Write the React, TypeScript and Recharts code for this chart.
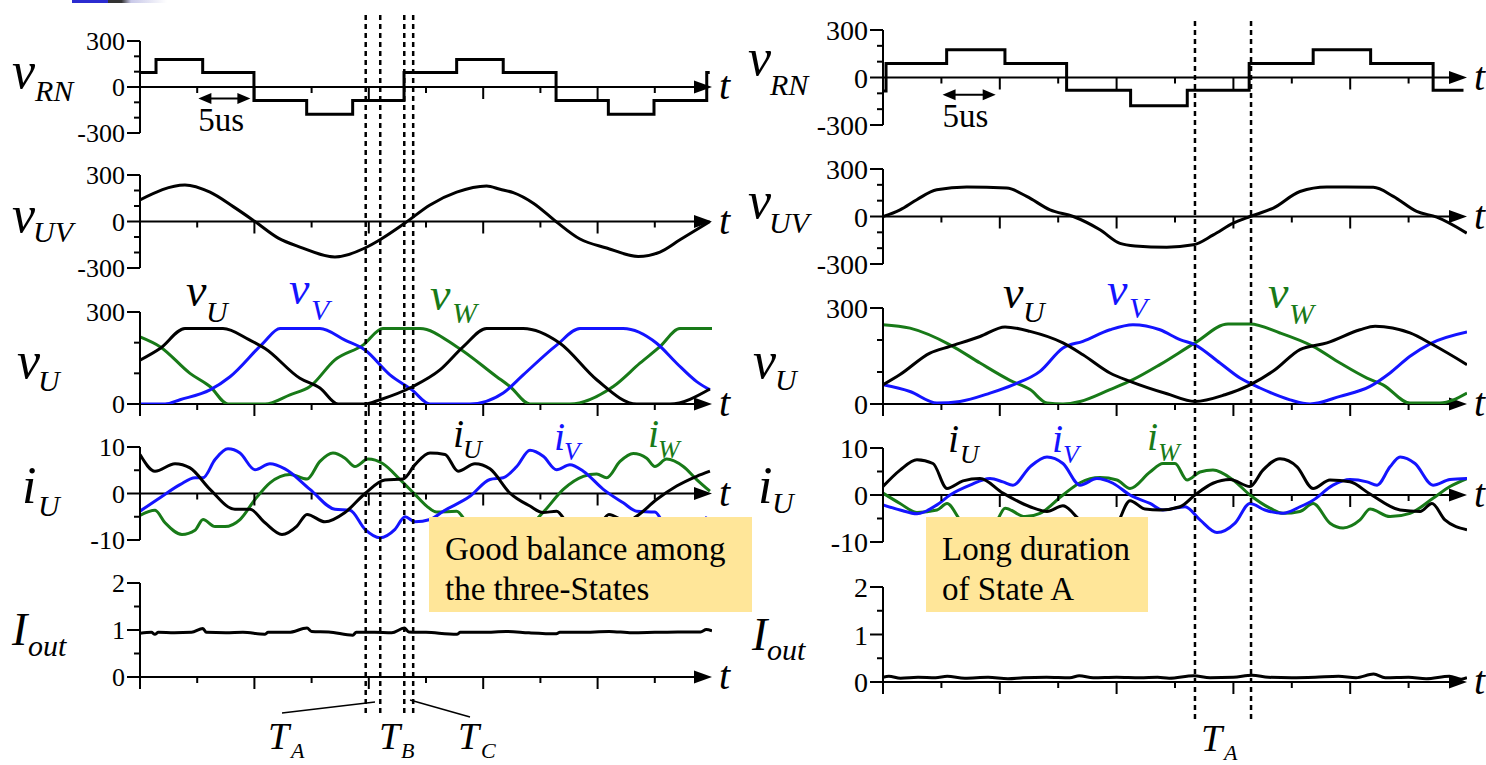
import React from 'react';
import { LineChart, Line, XAxis, YAxis, ReferenceLine, ReferenceDot } from 'recharts';

const W = 1486;
const H = 765;
const FONT = '"Liberation Serif", "Times New Roman", serif';
const BLACK = '#000000';
const BLUE = '#1414ff';
const GREEN = '#187a18';

// time axis, us
const X_TICKS = [0, 5, 10, 15, 20, 25, 30, 35, 40, 45];
const X_MAJOR = [0, 10, 20, 30, 40];
const SCALE_ARROW = [5.1, 9.65];

// ---- left case: good balance ----
const L_VRN: [number, number][] = [
  [0, 95], [1.4, 180], [5.48, 95], [9.96, -88], [14.57, -178], [18.59, -88], [23.08, 95],
  [27.68, 180], [31.75, 95], [36.37, -88], [40.94, -178], [44.93, -88], [49.54, 95], [49.8, 95],
];
const L_VUV: [number, number][] = [
  [0, 140], [3.93, 236], [6.12, 189], [8.15, 96], [10.05, 0], [12.09, -107], [13.98, -165],
  [17.04, -229], [19.67, -171], [20.98, -118], [23.17, -10], [25.35, 107], [27.68, 189],
  [30.3, 229], [31.47, 208], [32.63, 186], [34.38, 118], [36.36, 0], [38.46, -113],
  [40.79, -171], [43.55, -225], [45.45, -197], [47.2, -118], [49.82, 0],
];
const L_VU: [number, number][] = [
  [0, 143], [1.75, 181], [3.93, 246], [7.25, 246], [9.61, 208], [10.93, 181], [13.98, 84],
  [15.73, 52], [17.31, 0], [19.67, 0], [20.98, 14], [23.86, 57], [26.22, 111], [28.26, 187],
  [30.3, 246], [33.5, 246], [36.71, 198], [39.92, 79], [43.41, 0], [46.32, 0], [49.82, 49],
];
const L_VV: [number, number][] = [
  [0, 0], [2.19, 0], [3.5, 14], [6.12, 46], [7.87, 89], [10.75, 198], [12.24, 246],
  [15.73, 246], [17.92, 208], [19.67, 176], [21.85, 95], [23.77, 46], [25.35, 0], [28.84, 0],
  [31.75, 36], [33.5, 95], [36.42, 192], [38.46, 246], [42.24, 246], [45.16, 198],
  [46.91, 133], [48.66, 73], [49.82, 46],
];
const L_VW: [number, number][] = [
  [0, 219], [1.75, 187], [4.37, 100], [6.12, 57], [7.69, 0], [10.93, 0], [13.11, 30],
  [14.86, 57], [17.04, 144], [19.49, 192], [21.24, 246], [24.47, 246], [27.68, 187],
  [31.18, 89], [32.34, 57], [34.09, 0], [37.58, 0], [41.37, 57], [43.7, 133], [45.45, 187],
  [47.2, 246], [50, 246],
];
const L_IU: [number, number][] = [
  [0, 8.4], [1.31, 4.8], [3.06, 6.4], [4.37, 5.5], [6.12, 0.9], [8.3, -3.4], [9.61, -3.4],
  [10.93, -6.3], [12.41, -8.8], [13.72, -7.0], [14.6, -4.5], [16.17, -6.1], [17.92, -4.1],
  [19.67, 0], [21.41, 2.9], [23.0, 3.1], [24.04, 6.2], [25.35, 8.7], [26.66, 8.4],
  [27.8, 4.8], [29.28, 6.4], [30.59, 5.3], [32.34, 0.1], [34.09, -2.7], [35.22, -4.1],
  [36.42, -3.8], [37.32, -6.3], [38.81, -8.8], [40.12, -7.0], [40.99, -4.5], [42.57, -6.1],
  [43.41, -4.9], [45.16, -1.3], [46.91, 1.6], [48.66, 3.7], [49.82, 4.8],
];
const L_IV: [number, number][] = [
  [0, -3.8], [1.75, -0.9], [3.5, 1.9], [4.81, 3.4], [5.51, 3.4], [6.56, 7.3], [7.69, 9.6],
  [8.74, 8.7], [10.05, 5.1], [11.36, 6.4], [12.67, 5.3], [14.86, 0.9], [17.04, -3.4],
  [18.35, -3.6], [19.67, -7.7], [20.98, -9.5], [22.29, -7.7], [23.17, -5.0], [24.04, -6.1],
  [25.35, -5.6], [26.51, -3.8], [28.84, -0.6], [30.59, 3.0], [31.75, 3.4], [32.93, 5.8],
  [34.09, 9.3], [35.25, 8.0], [36.42, 5.1], [37.58, 6.2], [38.75, 4.8], [40.5, 0.9],
  [42.24, -2.0], [43.41, -3.8], [45.01, -4.0], [46.06, -7.7], [47.37, -9.5], [48.69, -7.7],
  [49.56, -5.0],
];
const L_IW: [number, number][] = [
  [0, -4.7], [1.31, -3.6], [2.19, -6.3], [3.67, -8.8], [4.81, -7.9], [5.51, -5.6],
  [6.56, -7.1], [7.43, -7.1], [8.74, -5.6], [10.05, -1.3], [11.36, 2.3], [13.11, 4.1],
  [14.6, 3.1], [15.73, 6.9], [16.87, 8.7], [17.92, 7.6], [18.79, 5.8], [19.93, 7.4],
  [21.24, 6.4], [22.73, 3.0], [24.04, -0.2], [25.06, -2.7], [25.93, -4.0], [27.68, -3.8],
  [28.58, -6.3], [30.07, -8.8], [31.2, -7.9], [31.9, -5.6], [32.95, -7.1], [33.83, -7.1],
  [35.25, -4.0], [37.0, 0.9], [38.75, 3.7], [39.92, 4.2], [40.79, 3.4], [41.96, 6.9],
  [43.12, 8.6], [44.29, 7.6], [45.01, 5.8], [46.04, 7.4], [47.49, 5.8], [48.66, 3.0],
  [49.82, 0.5],
];
const L_IOUT: [number, number][] = [
  [0, 0.93], [1, 0.95], [1.3, 0.91], [1.6, 0.95], [3, 0.94], [4.5, 0.95], [5.5, 1.03],
  [5.8, 0.95], [7.5, 0.94], [9, 0.95], [10.9, 0.91], [11.2, 0.95], [13, 0.95], [14.6, 1.04],
  [15, 0.97], [16.5, 0.96], [18.6, 0.89], [18.9, 0.95], [20.5, 0.95], [22, 0.94], [23.1, 1.04],
  [23.5, 0.96], [25, 0.95], [27.7, 0.91], [28, 0.95], [30, 0.95], [32, 0.97], [34, 0.94],
  [36.4, 0.92], [36.7, 0.95], [38.5, 0.95], [41, 0.97], [43, 0.94], [45, 0.95], [47, 0.96],
  [49, 0.96], [49.5, 1.01], [50, 0.98],
];
const L_DASH = [19.73, 21.0, 23.1, 23.88];

// ---- right case: long duration of State A ----
const R_VRN: [number, number][] = [
  [0, -85], [0.26, 88], [5.45, 175], [10.44, 88], [15.72, -80], [21.2, -178], [26.05, -80],
  [31.35, 88], [36.83, 175], [41.75, 88], [47.1, -80], [49.7, -80],
];
const R_VUV: [number, number][] = [
  [0, 0], [1.46, 42], [2.89, 106], [4.6, 169], [7.17, 186], [10.59, 180], [12.3, 127],
  [14.3, 42], [16.29, 0], [18.58, -84], [20.29, -170], [21.58, -186], [24.29, -194],
  [26.57, -179], [28.28, -116], [29.99, -42], [31.42, 0], [33.42, 53], [35.7, 158],
  [37.99, 186], [41.98, 184], [43.69, 127], [45.69, 32], [47.41, -4], [49.98, -105],
];
const R_VU: [number, number][] = [
  [0, 60], [1.46, 92], [4.02, 159], [5.74, 180], [8.31, 211], [10.45, 241], [12.59, 227],
  [15.41, 191], [17.12, 154], [19.43, 97], [21.15, 71], [24.32, 32], [26.71, 8], [29.28, 29],
  [31.42, 60], [33.56, 107], [35.7, 170], [38.01, 191], [40.84, 232], [42.13, 243],
  [45.12, 222], [47.09, 185], [50, 123],
];
const R_VV: [number, number][] = [
  [0, 60], [2.31, 39], [4.62, 3], [6.59, 8], [9.16, 34], [11.13, 60], [13.44, 102],
  [15.41, 175], [17.12, 196], [19.43, 232], [21.4, 248], [23.71, 232], [25.43, 201],
  [26.71, 185], [28.85, 128], [30.57, 81], [32.28, 50], [34.85, 13], [36.56, 0], [39.13, 24],
  [41.7, 55], [43.41, 97], [45.12, 149], [46.83, 188], [50, 225],
];
const R_VW: [number, number][] = [
  [0, 248], [2.31, 237], [5.74, 185], [8.31, 128], [10.87, 74], [12.59, 45], [14.04, 3],
  [15.41, 0], [16.87, 8], [19.43, 45], [21.4, 76], [23.71, 123], [26.71, 191], [29.54, 250],
  [31.42, 250], [33.99, 222], [36.82, 180], [39.13, 128], [41.44, 81], [42.81, 60],
  [45.12, 3], [47.68, 3], [50, 34],
];
const R_IU: [number, number][] = [
  [0, 1.8], [1.46, 5.3], [2.91, 7.5], [4.28, 6.7], [5.48, 1.4], [6.85, 3.0], [8.31, 3.5],
  [10.27, 0.4], [12.59, -2.5], [14.04, -3.5], [15.41, -2.3], [16.87, -5.3], [18.58, -7.6],
  [19.86, -6.7], [21.15, -1.2], [22.43, -3.0], [23.71, -3.2], [25.43, -2.5], [26.71, 0],
  [28.25, 2.5], [29.71, 3.3], [31.42, 1.8], [32.53, 5.3], [33.99, 7.7], [35.45, 6.0],
  [36.82, 1.4], [38.27, 3.2], [39.98, 2.8], [41.7, 0.2], [44.27, -3.2], [45.98, -3.5],
  [47.0, -1.8], [48.11, -5.3], [50, -7.4],
];
const R_IV: [number, number][] = [
  [0, -2.1], [1.46, -3.2], [2.91, -4.0], [4.62, -2.1], [5.74, 0], [7.45, 2.1], [9.16, 3.5],
  [10.27, 2.8], [11.13, 2.1], [12.59, 6.0], [14.04, 8.1], [15.41, 6.7], [16.87, 2.1],
  [18.32, 3.5], [19.69, 2.5], [21.15, 0], [22.86, -1.8], [23.97, -3.2], [25.86, -2.5],
  [27.14, -5.3], [28.59, -8.0], [30.14, -6.0], [31.42, -1.8], [32.7, -3.2], [34.25, -3.9],
  [35.7, -2.5], [36.82, -1.1], [38.53, 2.1], [39.98, 3.3], [41.44, 2.8], [42.3, 2.1],
  [43.41, 6.0], [44.27, 8.1], [45.55, 6.7], [47.09, 2.1], [48.54, 3.3], [50, 3.5],
];
const R_IW: [number, number][] = [
  [0, 0.4], [1.46, -1.8], [2.91, -3.7], [4.62, -3.2], [5.48, -1.8], [6.85, -6.0], [8.31, -7.0],
  [9.76, -5.3], [10.45, -2.8], [12.16, -4.6], [13.44, -3.9], [15.41, 0], [16.87, 2.6],
  [18.58, 3.7], [20.03, 3.2], [21.15, 1.4], [22.86, 4.9], [23.97, 6.7], [25.0, 6.7],
  [26.03, 3.2], [27.14, 4.9], [28.25, 5.3], [29.97, 3.2], [31.42, 0], [33.13, -2.8],
  [34.25, -3.9], [35.7, -3.5], [36.82, -1.8], [38.27, -6.0], [39.39, -7.0], [40.84, -5.3],
  [41.7, -3.0], [43.41, -4.6], [45.12, -3.9], [47.09, -0.7], [48.54, 1.8], [50, 3.5],
];
const R_IOUT: [number, number][] = [
  [0, 0.1], [0.5, 0.12], [1.5, 0.08], [3, 0.1], [4.5, 0.09], [5.5, 0.12], [7, 0.08], [9, 0.1],
  [10.7, 0.07], [12, 0.09], [14, 0.1], [16, 0.09], [16.8, 0.13], [18, 0.09], [20, 0.1],
  [22, 0.09], [23.5, 0.1], [24.5, 0.08], [26.6, 0.13], [28, 0.09], [30, 0.1], [31.6, 0.14],
  [33, 0.1], [35, 0.09], [37, 0.1], [39, 0.12], [40.5, 0.09], [42, 0.17], [43, 0.09],
  [45, 0.1], [46.5, 0.07], [48.5, 0.12], [49.5, 0.06], [50, 0.09],
];
const R_DASH = [26.71, 31.51];

const V_TICKS = [-300, -200, -100, 0, 100, 200, 300];
const V_LABELS = [-300, 0, 300];
const VP_TICKS = [0, 100, 200, 300];
const VP_LABELS = [0, 300];
const I_TICKS = [-10, -5, 0, 5, 10];
const I_LABELS = [-10, 0, 10];
const IO_TICKS = [0, 0.5, 1, 1.5, 2];
const IO_LABELS = [0, 1, 2];

type Col = { x0: number; x1: number; fs: number };
const LEFT: Col = { x0: 140, x1: 712, fs: 26 };
const RIGHT: Col = { x0: 883, x1: 1467, fs: 28 };

const toRows = (d: [number, number][]) => d.map(([t, v]) => ({ t, v }));

const yTick = (labels: number[], fs: number) => (p: any) => {
  const v = p.payload.value;
  const major = labels.includes(v);
  const len = major ? 13 : 6;
  return (
    <g>
      <line x1={p.x - len} x2={p.x} y1={p.y} y2={p.y} stroke="#000" strokeWidth={2} />
      {major && (
        <text x={p.x - 15} y={p.y} dy="0.36em" textAnchor="end" fontSize={fs} fontFamily={FONT} fill="#000">
          {v}
        </text>
      )}
    </g>
  );
};

// zero line with arrow head and "t"
const zeroAxis = (p: any) => {
  const xl = Math.min(p.x1, p.x2);
  const xr = Math.max(p.x1, p.x2);
  const y = p.y1;
  return (
    <g>
      <line x1={xl} y1={y} x2={xr - 10} y2={y} stroke="#000" strokeWidth={2} />
      <polygon points={`${xr},${y} ${xr - 18},${y - 6.5} ${xr - 18},${y + 6.5}`} fill="#000" />
      <text x={xr + 7} y={y + 12} fontSize={40} fontStyle="italic" fontFamily={FONT} fill="#000">t</text>
    </g>
  );
};

const scaleArrow = (p: any) => {
  const xl = Math.min(p.x1, p.x2);
  const xr = Math.max(p.x1, p.x2);
  const y = p.y1;
  return (
    <g>
      <line x1={xl + 6} y1={y} x2={xr - 6} y2={y} stroke="#000" strokeWidth={2} />
      <polygon points={`${xl},${y} ${xl + 13},${y - 5.5} ${xl + 13},${y + 5.5}`} fill="#000" />
      <polygon points={`${xr},${y} ${xr - 13},${y - 5.5} ${xr - 13},${y + 5.5}`} fill="#000" />
      <text x={xl} y={y + 32} fontSize={33} fontFamily={FONT} fill="#000">5us</text>
    </g>
  );
};

type Series = { data: [number, number][]; color: string; step?: boolean };

function Panel({ col, top, bottom, domain, ticks, labels, series, arrowY }: {
  col: Col; top: number; bottom: number; domain: [number, number]; ticks: number[];
  labels: number[]; series: Series[]; arrowY?: number;
}) {
  return (
    <div style={{ position: 'absolute', left: 0, top: 0 }}>
      <LineChart width={W} height={H} margin={{ top, bottom: H - bottom, left: 0, right: W - col.x1 }}>
        <XAxis type="number" dataKey="t" domain={[0, 50]} hide allowDataOverflow />
        <YAxis
          type="number"
          domain={domain}
          ticks={ticks}
          interval={0}
          width={col.x0}
          tickSize={0}
          tickMargin={0}
          tickLine={false}
          tick={yTick(labels, col.fs)}
          axisLine={{ stroke: '#000', strokeWidth: 2 }}
          allowDataOverflow
        />
        <ReferenceLine y={0} shape={zeroAxis} />
        {X_TICKS.map((t) => (
          <ReferenceDot
            key={t}
            x={t}
            y={0}
            shape={(d: any) => (
              <line x1={d.cx} x2={d.cx} y1={d.cy} y2={d.cy + (X_MAJOR.includes(t) ? 12 : 6)} stroke="#000" strokeWidth={2} />
            )}
          />
        ))}
        {arrowY !== undefined && (
          <ReferenceLine
            segment={[{ x: SCALE_ARROW[0], y: arrowY }, { x: SCALE_ARROW[1], y: arrowY }]}
            shape={scaleArrow}
          />
        )}
        {series.map((s, i) => (
          <Line
            key={i}
            data={toRows(s.data)}
            dataKey="v"
            type={s.step ? 'stepAfter' : 'monotone'}
            stroke={s.color}
            strokeWidth={3}
            dot={false}
            isAnimationActive={false}
          />
        ))}
      </LineChart>
    </div>
  );
}

// full-height dashed markers for the switching instants
function Dashes({ col, times, top, bottom }: { col: Col; times: number[]; top: number; bottom: number }) {
  const rows = times.map((t) => ({ t, y: 0 }));
  return (
    <div style={{ position: 'absolute', left: 0, top: 0 }}>
      <LineChart width={W} height={H} data={rows} margin={{ top, bottom: H - bottom, left: col.x0, right: W - col.x1 }}>
        <XAxis type="number" dataKey="t" domain={[0, 50]} hide allowDataOverflow />
        <YAxis type="number" hide domain={[0, 1]} allowDataOverflow />
        <Line dataKey="y" stroke="none" dot={false} isAnimationActive={false} />
        {times.map((t) => (
          <ReferenceLine key={t} x={t} stroke="#000" strokeWidth={2.5} strokeDasharray="5 4" ifOverflow="visible" />
        ))}
      </LineChart>
    </div>
  );
}

function Sym({ x, y, main, sub, sx, sy, color = '#000', size = 52, subSize = 30 }: {
  x: number; y: number; main: string; sub: string; sx: number; sy: number; color?: string; size?: number; subSize?: number;
}) {
  return (
    <text fontFamily={FONT} fontStyle="italic" fill={color}>
      <tspan x={x} y={y} fontSize={size}>{main}</tspan>
      <tspan x={sx} y={sy} fontSize={subSize}>{sub}</tspan>
    </text>
  );
}

const boxStyle: React.CSSProperties = {
  position: 'absolute',
  background: '#ffe699',
  fontFamily: FONT,
  fontSize: 33,
  lineHeight: '40px',
  color: '#000',
  boxSizing: 'border-box',
};

export default function App() {
  return (
    <div style={{ position: 'absolute', left: 0, top: 0, width: W, height: H, background: '#fff', overflow: 'hidden' }}>
      <div style={{ position: 'absolute', left: 72, top: 0, width: 95, height: 3, background: 'linear-gradient(to right, #2b2bd0 0%, #2b2bd0 38%, #333 38%, #333 52%, #c8c8e8 62%, #fff 100%)' }} />

      {/* left column */}
      <Panel col={LEFT} top={41} bottom={133} domain={[-300, 300]} ticks={V_TICKS} labels={V_LABELS} arrowY={-75}
        series={[{ data: L_VRN, color: BLACK, step: true }]} />
      <Panel col={LEFT} top={175} bottom={268} domain={[-300, 300]} ticks={V_TICKS} labels={V_LABELS}
        series={[{ data: L_VUV, color: BLACK }]} />
      <Panel col={LEFT} top={312} bottom={404} domain={[0, 300]} ticks={VP_TICKS} labels={VP_LABELS}
        series={[{ data: L_VW, color: GREEN }, { data: L_VV, color: BLUE }, { data: L_VU, color: BLACK }]} />
      <Panel col={LEFT} top={447} bottom={540} domain={[-10, 10]} ticks={I_TICKS} labels={I_LABELS}
        series={[{ data: L_IW, color: GREEN }, { data: L_IV, color: BLUE }, { data: L_IU, color: BLACK }]} />
      <Panel col={LEFT} top={583} bottom={677} domain={[0, 2]} ticks={IO_TICKS} labels={IO_LABELS}
        series={[{ data: L_IOUT, color: BLACK }]} />

      {/* right column */}
      <Panel col={RIGHT} top={30} bottom={125} domain={[-300, 300]} ticks={V_TICKS} labels={V_LABELS} arrowY={-109}
        series={[{ data: R_VRN, color: BLACK, step: true }]} />
      <Panel col={RIGHT} top={169} bottom={264} domain={[-300, 300]} ticks={V_TICKS} labels={V_LABELS}
        series={[{ data: R_VUV, color: BLACK }]} />
      <Panel col={RIGHT} top={308} bottom={404} domain={[0, 300]} ticks={VP_TICKS} labels={VP_LABELS}
        series={[{ data: R_VW, color: GREEN }, { data: R_VV, color: BLUE }, { data: R_VU, color: BLACK }]} />
      <Panel col={RIGHT} top={448} bottom={542} domain={[-10, 10]} ticks={I_TICKS} labels={I_LABELS}
        series={[{ data: R_IW, color: GREEN }, { data: R_IV, color: BLUE }, { data: R_IU, color: BLACK }]} />
      <Panel col={RIGHT} top={587} bottom={682} domain={[0, 2]} ticks={IO_TICKS} labels={IO_LABELS}
        series={[{ data: R_IOUT, color: BLACK }]} />

      <Dashes col={LEFT} times={L_DASH} top={12} bottom={713} />
      <Dashes col={RIGHT} times={R_DASH} top={18} bottom={719} />

      <svg width={W} height={H} style={{ position: 'absolute', left: 0, top: 0 }}>
        {/* row labels, left */}
        <Sym x={12} y={88} main="v" sub="RN" sx={35} sy={101} />
        <Sym x={12} y={232} main="v" sub="UV" sx={33} sy={242} />
        <Sym x={17} y={378} main="v" sub="U" sx={38} sy={391} />
        <Sym x={22} y={503} main="i" sub="U" sx={38} sy={516} />
        <Sym x={12} y={645} main="I" sub="out" sx={28} sy={656} size={46} />
        {/* row labels, right */}
        <Sym x={748} y={75} main="v" sub="RN" sx={770} sy={95} />
        <Sym x={748} y={218} main="v" sub="UV" sx={769} sy={233} />
        <Sym x={753} y={378} main="v" sub="U" sx={775} sy={390} />
        <Sym x={758} y={503} main="i" sub="U" sx={772} sy={513} />
        <Sym x={752} y={650} main="I" sub="out" sx={767} sy={660} size={46} />

        {/* series labels, left */}
        <Sym x={186} y={306} main="v" sub="U" sx={206} sy={322} size={46} />
        <Sym x={289} y={304} main="v" sub="V" sx={311} sy={320} size={46} color={BLUE} />
        <Sym x={430} y={310} main="v" sub="W" sx={452} sy={323} size={46} color={GREEN} />
        <Sym x={453} y={447} main="i" sub="U" sx={463} sy={458} size={40} subSize={26} />
        <Sym x={554} y={450} main="i" sub="V" sx={564} sy={460} size={40} subSize={26} color={BLUE} />
        <Sym x={648} y={447} main="i" sub="W" sx={658} sy={458} size={40} subSize={26} color={GREEN} />
        {/* series labels, right */}
        <Sym x={1003} y={308} main="v" sub="U" sx={1023} sy={322} size={46} />
        <Sym x={1107} y={305} main="v" sub="V" sx={1129} sy={318} size={46} color={BLUE} />
        <Sym x={1268} y={308} main="v" sub="W" sx={1289} sy={324} size={46} color={GREEN} />
        <Sym x={948} y={452} main="i" sub="U" sx={960} sy={463} size={40} subSize={26} />
        <Sym x={1052} y={452} main="i" sub="V" sx={1063} sy={463} size={40} subSize={26} color={BLUE} />
        <Sym x={1147} y={450} main="i" sub="W" sx={1158} sy={461} size={40} subSize={26} color={GREEN} />

        {/* instants */}
        <line x1={282} y1={713} x2={375} y2={702} stroke="#000" strokeWidth={1.5} />
        <line x1={410} y1={700} x2={470} y2={717} stroke="#000" strokeWidth={1.5} />
        <Sym x={268} y={749} main="T" sub="A" sx={291} sy={758} size={38} subSize={22} />
        <Sym x={379} y={749} main="T" sub="B" sx={401} sy={758} size={38} subSize={22} />
        <Sym x={458} y={749} main="T" sub="C" sx={481} sy={758} size={38} subSize={22} />
        <Sym x={1201} y={751} main="T" sub="A" sx={1224} sy={760} size={38} subSize={22} />
      </svg>

      <div style={{ ...boxStyle, left: 429, top: 517, width: 323, height: 95, padding: '12px 0 0 16px' }}>
        Good balance among<br />the three-States
      </div>
      <div style={{ ...boxStyle, left: 926, top: 517, width: 222, height: 95, padding: '12px 0 0 16px' }}>
        Long duration<br />of State A
      </div>
    </div>
  );
}
